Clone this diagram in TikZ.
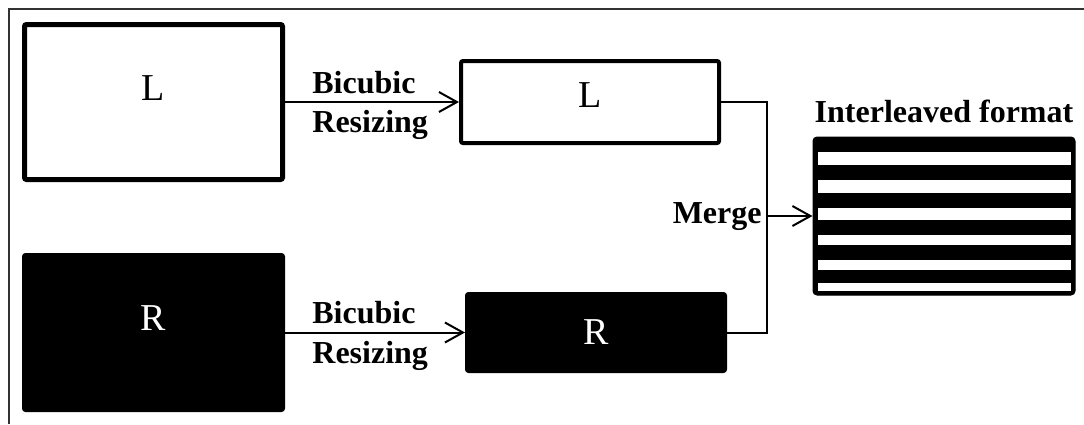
\documentclass[tikz,border=0pt]{standalone}
\usepackage{fontspec}
\setmainfont{Liberation Serif}
\usepackage{tikz}
\usetikzlibrary{arrows.meta, positioning}
\tikzset{
  wbox/.style ={rectangle, rounded corners=1pt, draw=black, line width=2.5pt, fill=white},
  wboxs/.style={rectangle, rounded corners=1pt, draw=black, line width=2pt, fill=white},
  bbox/.style ={rectangle, rounded corners=1.5pt, draw=black, line width=0.5pt, fill=black},
  btxt/.style ={font=\fontsize{19}{22}\selectfont, text=black, inner sep=0pt},
  wtxt/.style ={font=\fontsize{19}{22}\selectfont, text=white, inner sep=0pt},
  lbl/.style  ={font=\fontsize{16}{19}\selectfont\bfseries, text=black, inner sep=0pt},
  arr/.style  ={-{Straight Barb[length=9pt, width=10pt, line width=1pt]}, line width=1pt, color=black},
  cline/.style={line width=1pt, color=black},
  frame/.style={line width=1pt, color=black!80},
}
\begin{document}
\begin{tikzpicture}[x=0.5pt, y=-0.5pt]
  \useasboundingbox (0,0) rectangle (1084,424);
  % khung
  \draw[frame] (1084,9) -- (9,9) -- (9,424);
  % ảnh gốc
  \node[wbox, minimum width=129pt, minimum height=77.5pt] (bigL) at (153.5,102)   {};
  \node[bbox, minimum width=131pt, minimum height=79pt]   (bigR) at (153.5,332.5) {};
  \node[btxt] (tbigL) at ([yshift=7pt]bigL.center) {L};
  \node[wtxt] (tbigR) at ([yshift=7pt]bigR.center) {R};
  % ảnh đã thu nhỏ
  \node[wboxs, minimum width=129pt, minimum height=41pt]  (smL) at (590,102)   {};
  \node[bbox,  minimum width=130.5pt, minimum height=40pt] (smR) at (596,332.5) {};
  \node[btxt] (tsmL) at ([yshift=3.5pt]smL.center) {L};
  \node[wtxt] (tsmR) at (smR.center) {R};
  % định dạng xen kẽ
  \node[bbox, rounded corners=2pt, minimum width=131pt, minimum height=79pt] (inter) at (944,216) {};
  \foreach \a/\b in {152/165, 180/193, 208/220, 235/245, 260/270, 283/291}
    \fill[white] (818,\a) rectangle (1071,\b);
  \node[lbl, anchor=base] (tinter) at (944,122) {Interleaved format};
  % luồng
  \draw[arr] (bigL.east) -- (smL.west);
  \draw[arr] (bigR.east) -- (smR.west);
  \node[lbl, anchor=base west] (bc1) at (312,93)  {Bicubic};
  \node[lbl, anchor=base west] (rs1) at (312,132) {Resizing};
  \node[lbl, anchor=base west] (bc2) at (312,323) {Bicubic};
  \node[lbl, anchor=base west] (rs2) at (312,363) {Resizing};
  \coordinate (mg) at (767,216);
  \draw[cline] (smL.east) -| (mg);
  \draw[cline] (smR.east) -| (mg);
  \draw[arr] (mg) -- (inter.west);
  \node[lbl, anchor=base east] (tmg) at (762,223) {Merge};
\end{tikzpicture}
\end{document}
